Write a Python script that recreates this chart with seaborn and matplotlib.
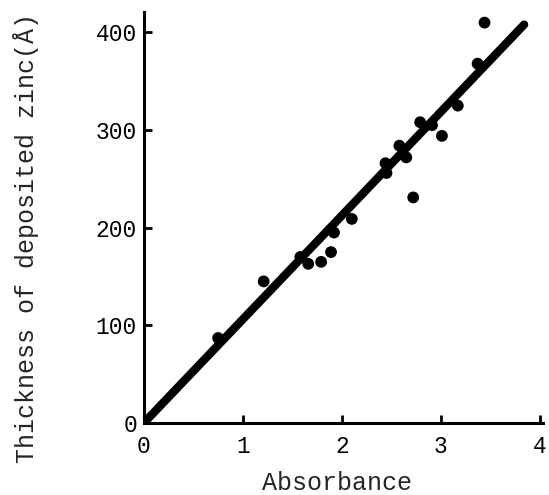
import matplotlib
matplotlib.use("Agg")
import matplotlib.pyplot as plt
import seaborn as sns
import pandas as pd

absorbance = [0.75, 1.21, 1.58, 1.66, 1.79, 1.89, 1.92, 2.10, 2.44, 2.45,
              2.58, 2.65, 2.72, 2.79, 2.91, 3.01, 3.17, 3.37, 3.44]
thickness = [87, 145, 170, 163, 165, 175, 195, 209, 266, 256,
             284, 272, 231, 308, 305, 294, 325, 368, 410]

# fitted line end points
fit_x = [0.0, 3.84]
fit_y = [0.0, 408.0]

x_ticks = [0, 1, 2, 3, 4]
y_ticks = [0, 100, 200, 300, 400]

sns.set_style("ticks")
plt.rcParams['font.family'] = ['Liberation Mono', 'DejaVu Sans Mono']

points = pd.DataFrame({'absorbance': absorbance, 'thickness': thickness})
fit = pd.DataFrame({'absorbance': fit_x, 'thickness': fit_y})

fig = plt.figure(figsize=(5.49, 4.95), dpi=100)
ax = fig.add_axes([0.262, 0.1455, 0.727, 0.8305])

sns.lineplot(data=fit, x='absorbance', y='thickness', color='black',
             linewidth=6, solid_capstyle='round', ax=ax)
sns.scatterplot(data=points, x='absorbance', y='thickness', color='black',
                s=72, edgecolor='none', ax=ax, zorder=3)

ax.set_xlim(0, 4.03)
ax.set_ylim(0, 421)
ax.set_xticks(x_ticks)
ax.set_yticks(y_ticks)
ax.set_xticklabels([str(t) for t in x_ticks])
ax.set_yticklabels([str(t) for t in y_ticks])

for side in ['top', 'right']:
    ax.spines[side].set_visible(False)
for side in ['left', 'bottom']:
    ax.spines[side].set_linewidth(2.2)
    ax.spines[side].set_color('black')

ax.tick_params(direction='in', length=6, width=2, colors='black', labelsize=16.5)
ax.tick_params(axis='x', pad=9)
ax.tick_params(axis='y', pad=5)

ax.set_xlabel('Absorbance', fontsize=18)
ax.set_ylabel('Thickness of deposited zinc(Å)', fontsize=18)
ax.xaxis.set_label_coords(0.484, -0.118)
ax.yaxis.set_label_coords(-0.262, 0.45)

fig.savefig('out.png', dpi=100)
